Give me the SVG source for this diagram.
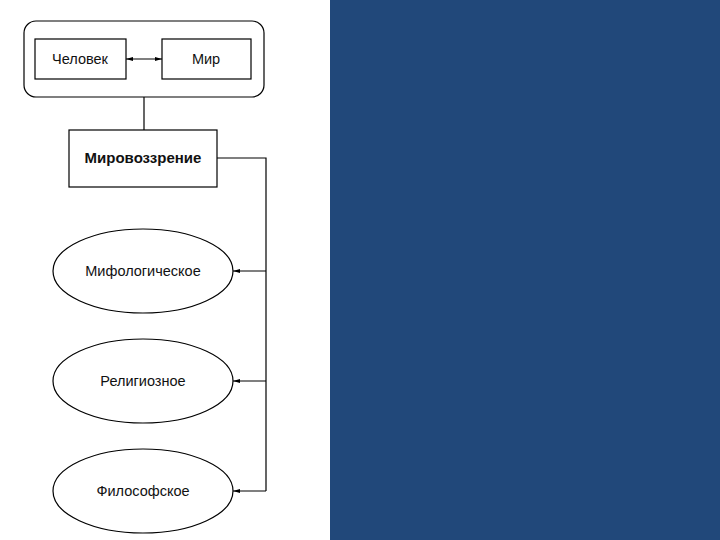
<svg xmlns="http://www.w3.org/2000/svg" width="720" height="540" viewBox="0 0 720 540">
<defs>
<marker id="ah" viewBox="0 0 10 10" refX="10" refY="5" markerWidth="7" markerHeight="7" orient="auto-start-reverse" markerUnits="userSpaceOnUse">
<path d="M0,2 L10,5 L0,8 z" fill="#000"/>
</marker>
<style>
.s{fill:#fff;stroke:#000;stroke-width:1.2}
.t{font-family:"Liberation Sans",Arial,sans-serif;font-size:14.5px;fill:#111;text-anchor:middle}
.b{font-weight:bold;font-size:15px}
.c{fill:none;stroke:#000;stroke-width:1.2}
</style>
</defs>
<rect x="0" y="0" width="720" height="540" fill="#fff"/>
<rect x="330" y="0" width="390" height="540" fill="#21487a"/>
<g id="outer"><rect class="s" x="24" y="21" width="240" height="76" rx="12"/></g>
<g id="chelovek"><rect class="s" x="35" y="39" width="91" height="40"/><text class="t" x="80" y="64">Человек</text></g>
<g id="mir"><rect class="s" x="162" y="39" width="89" height="40"/><text class="t" x="206" y="64">Мир</text></g>
<g id="mirovozzrenie"><rect class="s" x="69" y="130" width="148" height="57"/><text class="t b" x="143" y="163">Мировоззрение</text></g>
<g id="mif"><ellipse class="s" cx="143" cy="271" rx="90" ry="42"/><text class="t" x="143" y="276">Мифологическое</text></g>
<g id="rel"><ellipse class="s" cx="143" cy="381" rx="90" ry="42"/><text class="t" x="143" y="386">Религиозное</text></g>
<g id="fil"><ellipse class="s" cx="143" cy="491" rx="90" ry="42"/><text class="t" x="143" y="496">Философское</text></g>
<g id="connectors">
<line class="c" x1="126" y1="59" x2="162" y2="59" marker-start="url(#ah)" marker-end="url(#ah)"/>
<line class="c" x1="144" y1="97" x2="144" y2="130"/>
<polyline class="c" points="217,158 266,158 266,491"/>
<line class="c" x1="266" y1="271" x2="233" y2="271" marker-end="url(#ah)"/>
<line class="c" x1="266" y1="381" x2="233" y2="381" marker-end="url(#ah)"/>
<line class="c" x1="266" y1="491" x2="233" y2="491" marker-end="url(#ah)"/>
</g>
</svg>
